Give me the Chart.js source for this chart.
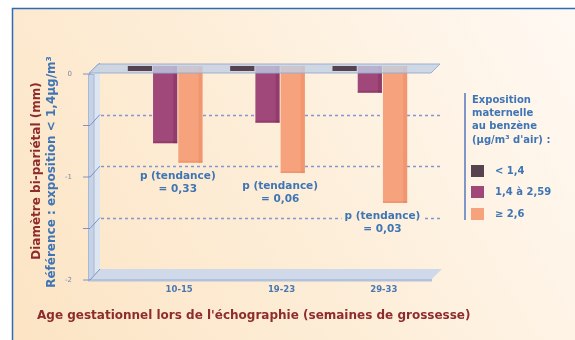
<!DOCTYPE html>
<html lang="fr">
<head>
<meta charset="utf-8">
<script src="https://cdn.jsdelivr.net/npm/chart.js@4"></script>
<style>
  html, body { margin: 0; padding: 0; background: #fff; }
  #wrap { width: 575px; height: 340px; }
</style>
</head>
<body>
<div id="wrap"><canvas id="c" width="575" height="340"></canvas></div>
<script>
// Gestational age windows (weeks) and mean BPD difference (mm) vs. reference group
const categories = ['10-15', '19-23', '29-33'];
const seriesLabels = ['< 1,4', '1,4 à 2,59', '≥ 2,6'];
const lowExposure = [0, 0, 0];            // reference group
const midExposure = [-0.75, -0.55, -0.26];
const highExposure = [-0.94, -1.04, -1.33];
const trendPValues = ['0,33', '0,06', '0,03'];
const yRange = { min: -2, max: 0, step: 0.5 };

const colors = { low: '#56434f', mid: '#a1487b', high: '#f6a27c' };
const BLUE = '#3f75b5';
const RED = '#8e2c2c';
const FONT = '"DejaVu Sans", sans-serif';

function backgroundFill(ctx) {
  const g = ctx.createLinearGradient(12, 340, 575, 8);
  g.addColorStop(0, '#fce4c4');
  g.addColorStop(0.5, '#fdeed9');
  g.addColorStop(1, '#fff9f3');
  return g;
}

const decor = {
  id: 'decor',
  beforeDraw(chart) {
    const ctx = chart.ctx;
    ctx.save();
    ctx.fillStyle = '#ffffff';
    ctx.fillRect(0, 0, chart.width, chart.height);
    ctx.fillStyle = backgroundFill(ctx);
    ctx.fillRect(12, 8, chart.width - 12, chart.height - 8);
    ctx.strokeStyle = '#2c6cb7';
    ctx.lineWidth = 1.5;
    ctx.beginPath();
    ctx.moveTo(12.5, chart.height);
    ctx.lineTo(12.5, 8.5);
    ctx.lineTo(chart.width, 8.5);
    ctx.stroke();
    ctx.restore();
  },
  beforeDatasetsDraw(chart) {
    const ctx = chart.ctx;
    const a = chart.chartArea;
    const ys = chart.scales.y;
    const L = a.left, R = a.right, T = a.top, B = a.bottom;
    ctx.save();
    // left wall: front face and side face
    ctx.fillStyle = '#c6d2e6';
    ctx.fillRect(L - 26, T + 8, 6, B - T);
    ctx.fillStyle = '#dde5f1';
    ctx.beginPath();
    ctx.moveTo(L - 20, T + 8);
    ctx.lineTo(L - 14, T);
    ctx.lineTo(L - 14, B);
    ctx.lineTo(L - 20, B + 8);
    ctx.closePath();
    ctx.fill();
    ctx.strokeStyle = '#a8b8d5';
    ctx.lineWidth = 1;
    ctx.strokeRect(L - 25.5, T + 8.5, 5.5, B - T);
    // floor
    ctx.fillStyle = '#cfd9ea';
    ctx.beginPath();
    ctx.moveTo(L - 14, B - 3);
    ctx.lineTo(R + 21, B - 3);
    ctx.lineTo(R + 11, B + 7);
    ctx.lineTo(L - 24, B + 7);
    ctx.closePath();
    ctx.fill();
    ctx.fillStyle = '#b3c2dc';
    ctx.fillRect(L - 26, B + 7, R + 11 - (L - 26), 2.5);
    // back-wall dashed grid
    ctx.strokeStyle = '#8497d3';
    ctx.lineWidth = 1.5;
    ctx.setLineDash([3, 3]);
    [-0.5, -1, -1.5].forEach(v => {
      const py = Math.round(ys.getPixelForValue(v) - 3) + 0.5;
      ctx.beginPath();
      ctx.moveTo(L - 13, py);
      ctx.lineTo(R + 21, py);
      ctx.stroke();
    });
    ctx.setLineDash([]);
    // front tick marks with short connectors to the back wall
    ctx.strokeStyle = '#7f92c2';
    ctx.lineWidth = 1;
    for (let v = yRange.min; v <= yRange.max + 1e-9; v += yRange.step) {
      const back = ys.getPixelForValue(v) - 3;
      const front = ys.getPixelForValue(v) + 8;
      ctx.beginPath();
      ctx.moveTo(L - 31, front);
      ctx.lineTo(L - 24, front);
      ctx.lineTo(L - 14, back);
      ctx.stroke();
    }
    ctx.restore();
  },
  afterDatasetDraw(chart, args) {
    if (args.index !== 1 && args.index !== 2) return;
    const ctx = chart.ctx;
    ctx.save();
    ctx.fillStyle = args.index === 1 ? 'rgba(90,20,55,0.22)' : 'rgba(225,110,70,0.22)';
    args.meta.data.forEach(el => {
      const p = el.getProps(['x', 'y', 'base', 'width'], true);
      const top = Math.min(p.y, p.base);
      ctx.fillRect(p.x + p.width / 2 - 4, top, 4, Math.abs(p.base - p.y));
      ctx.fillRect(p.x - p.width / 2, Math.max(p.y, p.base) - 2, p.width, 2);
    });
    ctx.restore();
  },
  beforeDatasetDraw(chart, args) {
    if (args.index !== 0) return;
    // translucent top slab over the zero line
    const ctx = chart.ctx;
    const a = chart.chartArea;
    const L = a.left, R = a.right, T = a.top;
    ctx.save();
    ctx.fillStyle = 'rgba(192,207,230,0.78)';
    ctx.beginPath();
    ctx.moveTo(L - 16, T - 2);
    ctx.lineTo(R + 19, T - 2);
    ctx.lineTo(R + 10, T + 7);
    ctx.lineTo(L - 25, T + 7);
    ctx.closePath();
    ctx.fill();
    ctx.strokeStyle = 'rgba(150,170,205,0.9)';
    ctx.lineWidth = 1;
    ctx.stroke();
    ctx.restore();
  },
  afterDraw(chart) {
    const ctx = chart.ctx;
    ctx.save();
    // trend p-values under each group
    ctx.font = 'bold 10.5px ' + FONT;
    ctx.textAlign = 'center';
    ctx.textBaseline = 'middle';
    const midMeta = chart.getDatasetMeta(1);
    const hiMeta = chart.getDatasetMeta(2);
    trendPValues.forEach((p, i) => {
      const m = midMeta.data[i], h = hiMeta.data[i];
      const x = (m.x + h.x) / 2;
      const y = Math.max(h.y, h.base) + 13;
      const lines = ['p (tendance)', '= ' + p];
      lines.forEach((t, k) => {
        const w = ctx.measureText(t).width;
        ctx.fillStyle = backgroundFill(ctx);
        ctx.fillRect(x - w / 2 - 3, y + k * 13 - 6, w + 6, 12);
        ctx.fillStyle = BLUE;
        ctx.fillText(t, x, y + k * 13);
      });
    });
    // legend
    ctx.strokeStyle = '#7f96c9';
    ctx.lineWidth = 2;
    ctx.beginPath();
    ctx.moveTo(465, 93);
    ctx.lineTo(465, 220);
    ctx.stroke();
    ctx.textAlign = 'left';
    ctx.font = 'bold 10px ' + FONT;
    ctx.fillStyle = BLUE;
    ['Exposition', 'maternelle', 'au benzène', '(µg/m³ d\'air) :'].forEach((t, k) => {
      ctx.fillText(t, 472, 100 + k * 13.4);
    });
    const itemY = [171, 192, 214];
    chart.data.datasets.forEach((ds, i) => {
      ctx.fillStyle = ds.backgroundColor;
      ctx.fillRect(471, itemY[i] - 6, 13, 12);
      ctx.fillStyle = BLUE;
      ctx.fillText(ds.label, 495, itemY[i]);
    });
    // axis titles
    ctx.font = 'bold 12px ' + FONT;
    ctx.fillStyle = RED;
    ctx.fillText('Age gestationnel lors de l\'échographie (semaines de grossesse)', 37, 316);
    ctx.textAlign = 'center';
    ctx.save();
    ctx.translate(37, 171);
    ctx.rotate(-Math.PI / 2);
    ctx.fillText('Diamètre bi-pariétal (mm)', 0, 0);
    ctx.restore();
    ctx.save();
    ctx.translate(52, 172);
    ctx.rotate(-Math.PI / 2);
    ctx.fillStyle = BLUE;
    ctx.fillText('Référence : exposition < 1,4µg/m³', 0, 0);
    ctx.restore();
    ctx.restore();
  }
};

new Chart(document.getElementById('c'), {
  type: 'bar',
  data: {
    labels: categories,
    datasets: [
      { label: seriesLabels[0], data: lowExposure, backgroundColor: colors.low, minBarLength: 5 },
      { label: seriesLabels[1], data: midExposure, backgroundColor: colors.mid },
      { label: seriesLabels[2], data: highExposure, backgroundColor: colors.high }
    ]
  },
  options: {
    responsive: false,
    animation: false,
    devicePixelRatio: 1,
    layout: { padding: { top: 66, right: 154, left: 0, bottom: 0 } },
    datasets: { bar: { barPercentage: 0.96, categoryPercentage: 0.74, borderWidth: 0 } },
    plugins: { legend: { display: false }, tooltip: { enabled: false }, title: { display: false } },
    scales: {
      x: {
        grid: { display: false },
        border: { display: false },
        ticks: {
          color: '#4a78b2',
          font: { family: FONT, size: 8.5, weight: 'bold' },
          padding: 5,
          labelOffset: 14,
          maxRotation: 0,
          autoSkip: false
        },
        afterFit(scale) { scale.height = 68; }
      },
      y: {
        min: yRange.min,
        max: yRange.max,
        grid: { display: false },
        border: { display: false },
        ticks: {
          stepSize: yRange.step,
          autoSkip: false,
          color: '#7b89a7',
          font: { family: FONT, size: 7 },
          padding: 34,
          labelOffset: 8,
          callback: v => Number.isInteger(v) ? (v === 0 ? '0' : String(v)) : ''
        },
        afterFit(scale) { scale.width = 114; }
      }
    }
  },
  plugins: [decor]
});
</script>
</body>
</html>
